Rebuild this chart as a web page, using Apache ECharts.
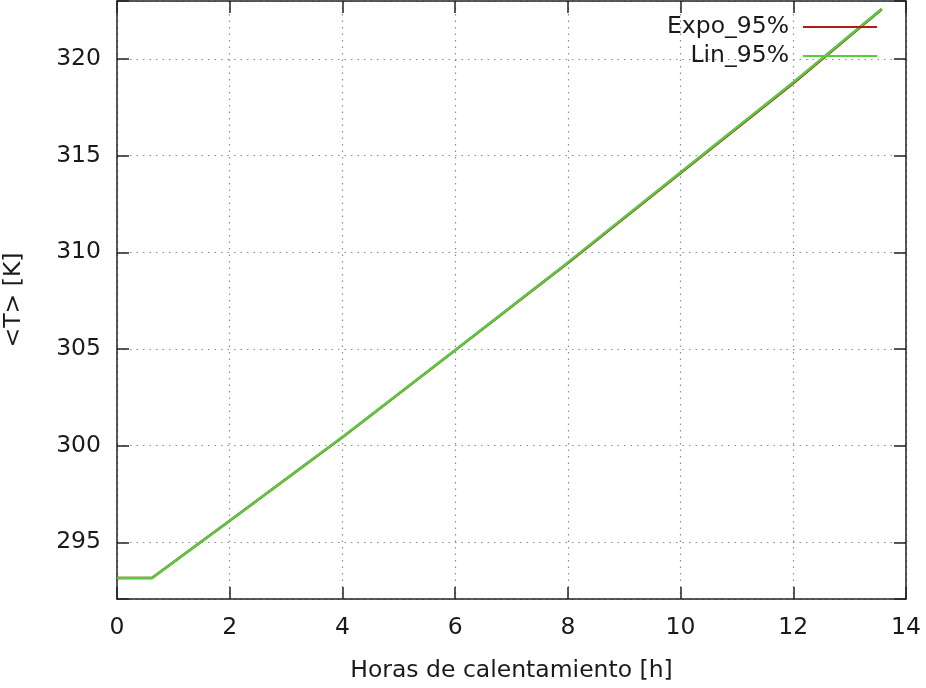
<!DOCTYPE html>
<html>
<head>
<meta charset="utf-8">
<script src="https://cdn.jsdelivr.net/npm/echarts@6/dist/echarts.min.js"></script>
<style>html,body{margin:0;padding:0;background:#fff}#c{width:926px;height:688px}</style>
</head>
<body>
<div id="c"></div>
<script>
// Data (hours, temperature in K)
var hours = [0, 0.62, 2, 4, 6, 8, 10, 12, 13.57];
var expo95 = [293.15, 293.15, 296.12, 300.43, 304.93, 309.45, 314.10, 318.74, 322.57];
var lin95  = [293.15, 293.15, 296.12, 300.45, 304.95, 309.48, 314.14, 318.80, 322.6];
var seriesNames = ['Expo_95%', 'Lin_95%'];
var xTickLabels = ['0','2','4','6','8','10','12','14'];

var FONT = 'DejaVu Sans';
var TXT = '#1a1a1a';
var AX = '#222';
var FS = 23.5;

function pairs(xs, ys){ return xs.map(function(x,i){ return [x, ys[i]]; }); }
function gridLine(){ return {show:true, lineStyle:{color:'#8c8c8c', width:1.2, type:[1.5,5]}}; }
function tickStyle(){ return {show:true, inside:true, length:12, lineStyle:{color:AX, width:1.5}}; }
function axLine(){ return {show:true, onZero:false, lineStyle:{color:AX, width:1.5}}; }

var chart = echarts.init(document.getElementById('c'), null, {renderer:'canvas'});

chart.setOption({
  animation:false,
  backgroundColor:'#fff',
  grid:{left:117, right:20, top:1, bottom:89, containLabel:false, outerBoundsMode:'none'},
  legend:[
    {data:[seriesNames[0]], right:44, top:10, orient:'vertical', align:'right', itemWidth:74, itemHeight:2,
     icon:'rect', textStyle:{fontFamily:FONT, fontSize:FS, color:TXT, padding:[0,9,0,0]}},
    {data:[seriesNames[1]], right:44, top:39, orient:'vertical', align:'right', itemWidth:74, itemHeight:2,
     icon:'rect', textStyle:{fontFamily:FONT, fontSize:FS, color:TXT, padding:[0,9,0,0]}}
  ],
  xAxis:[
    {type:'value', min:0, max:14, interval:2, position:'bottom',
     axisLine:axLine(), axisTick:tickStyle(), splitLine:gridLine(),
     axisLabel:{margin:17, fontFamily:FONT, fontSize:FS, color:TXT,
       formatter:function(v){ var i = Math.round(v/2); return (Math.abs(v-2*i)<1e-6 && xTickLabels[i]!==undefined) ? xTickLabels[i] : ''; }},
     name:'Horas de calentamiento [h]', nameLocation:'middle', nameGap:60,
     nameTextStyle:{fontFamily:FONT, fontSize:FS, color:TXT}},
    {type:'value', min:0, max:14, interval:2, position:'top',
     axisLine:axLine(), axisTick:tickStyle(), splitLine:{show:false}, axisLabel:{show:false}}
  ],
  yAxis:[
    {type:'value', min:292.07, max:323, splitNumber:6, position:'left',
     axisLine:axLine(), axisTick:tickStyle(), splitLine:gridLine(),
     axisLabel:{margin:16, fontFamily:FONT, fontSize:FS, color:TXT,
       formatter:function(v){ var r = Math.round(v/5)*5; return Math.abs(v-r)<1e-6 ? String(r) : ''; }},
     name:'<T> [K]', nameLocation:'middle', nameGap:91, nameRotate:90,
     nameTextStyle:{fontFamily:FONT, fontSize:FS, color:TXT}},
    {type:'value', min:292.07, max:323, splitNumber:6, position:'right',
     axisLine:axLine(), axisTick:tickStyle(), splitLine:{show:false}, axisLabel:{show:false}}
  ],
  series:[
    {name:seriesNames[0], type:'line', xAxisIndex:0, yAxisIndex:0, data:pairs(hours, expo95),
     showSymbol:false, symbol:'none', color:'#b31b1b', lineStyle:{color:'#b31b1b', width:2.5}},
    {name:seriesNames[1], type:'line', xAxisIndex:0, yAxisIndex:0, data:pairs(hours, lin95),
     showSymbol:false, symbol:'none', color:'#55cc3a', lineStyle:{color:'#55cc3a', width:2.5}}
  ]
});
</script>
</body>
</html>
